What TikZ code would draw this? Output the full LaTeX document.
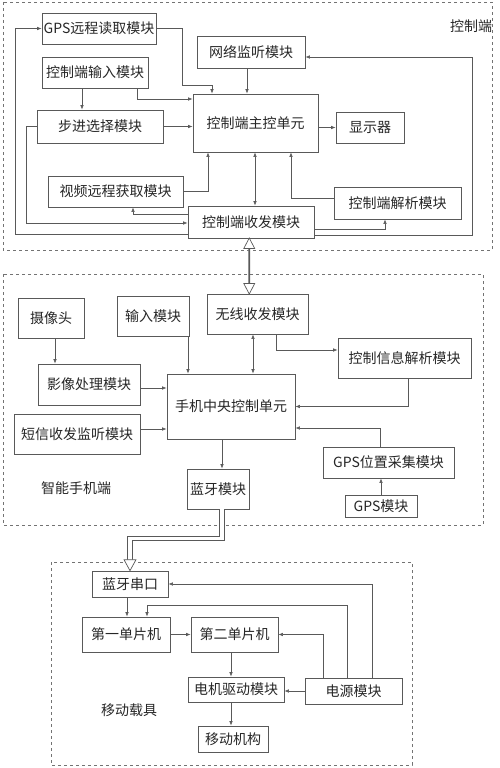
\documentclass[tikz,border=0pt]{standalone}
\usepackage{fontspec}
\setmainfont{Noto Sans CJK SC}
\usetikzlibrary{arrows.meta,shapes.arrows,calc}

\begin{document}
\begin{tikzpicture}[x=1pt,y=-1pt,
  box/.style={draw=black!65,line width=0.7pt,inner sep=0pt,text=black!85,font=\fontsize{14}{16}\selectfont},
  line/.style={draw=black!65,line width=0.6pt},
  arr/.style={line,-{Latex[length=4.5pt,width=3.5pt]}},
  both/.style={line,{Latex[length=4.5pt,width=3.5pt]}-{Latex[length=4.5pt,width=3.5pt]}},
  hollow/.style={draw=black!65,line width=0.7pt,fill=white,double arrow,rotate=90,inner sep=0pt,
    minimum width=11pt,double arrow head extend=3pt,double arrow tip angle=55},
  dline/.style={draw=black!65,line width=0.8pt,double=white,double distance=3.5pt},
  frame/.style={draw=black!55,dashed,line width=0.6pt},
  lbl/.style={text=black!85,font=\fontsize{14}{16}\selectfont}]
\useasboundingbox (0,0) rectangle (500,768);

\draw[frame] (3,2) rectangle (492,250);
\draw[frame] (3,274) rectangle (483,525);
\draw[frame] (51,562) rectangle (412,765);

\node[lbl] (l1) at (471,26) {控制端};
\node[lbl] (l2) at (76,488) {智能手机端};
\node[lbl] (l3) at (129,710) {移动载具};

\node[box,minimum width=114,minimum height=31] (gps) at (99,28.5) {GPS远程读取模块};
\node[box,minimum width=108,minimum height=32] (wl) at (251,52) {网络监听模块};
\node[box,minimum width=106,minimum height=31] (inp) at (95,72.5) {控制端输入模块};
\node[box,minimum width=126,minimum height=33] (bj) at (100,126.5) {步进选择模块};
\node[box,minimum width=125,minimum height=58] (zk) at (255.5,123) {控制端主控单元};
\node[box,minimum width=68,minimum height=31] (disp) at (370,127.5) {显示器};
\node[box,minimum width=135,minimum height=31] (sp) at (115.5,191.5) {视频远程获取模块};
\node[box,minimum width=127,minimum height=32] (jx) at (397.5,203) {控制端解析模块};
\node[box,minimum width=126,minimum height=32] (sf) at (251,222) {控制端收发模块};

\node[box,minimum width=66,minimum height=40] (cam) at (51,318) {摄像头};
\node[box,minimum width=72,minimum height=40] (sr) at (153,316) {输入模块};
\node[box,minimum width=101,minimum height=40] (wx) at (257.5,314) {无线收发模块};
\node[box,minimum width=133,minimum height=40] (kx) at (404.5,358) {控制信息解析模块};
\node[box,minimum width=102,minimum height=41] (yx) at (89,384.5) {影像处理模块};
\node[box,minimum width=128,minimum height=65] (sj) at (231,406.5) {手机中央控制单元};
\node[box,minimum width=126,minimum height=40] (dx) at (77,434) {短信收发监听模块};
\node[box,minimum width=131,minimum height=31] (gc) at (388.5,462.5) {GPS位置采集模块};
\node[box,minimum width=72,minimum height=22] (gm) at (381,506) {GPS模块};
\node[box,minimum width=62,minimum height=40] (bt) at (218,489) {蓝牙模块};

\node[box,minimum width=76,minimum height=26] (sk) at (130,584) {蓝牙串口};
\node[box,minimum width=88,minimum height=35] (d1) at (126,634.5) {第一单片机};
\node[box,minimum width=87,minimum height=35] (d2) at (234.5,634.5) {第二单片机};
\node[box,minimum width=96,minimum height=25] (dj) at (236,689.5) {电机驱动模块};
\node[box,minimum width=70,minimum height=26] (yd) at (233,739) {移动机构};
\node[box,minimum width=97,minimum height=26] (dy) at (353.5,691) {电源模块};

\draw[arr] (gps.east) -| (182,85) -| ([xshift=-43.5]zk.north);
\draw[arr] ([xshift=-4]wl.south) -- ([xshift=-4]wl.south |- zk.north);
\draw[arr] ([xshift=-13]inp.south) -- ([xshift=-13]inp.south |- bj.north);
\draw[arr] ([xshift=42]inp.south) |- ([yshift=24]zk.west);
\draw[arr] (bj.east) -- (bj.east -| zk.west);
\draw[arr] (disp.west -| zk.east) -- (disp.west);
\draw[arr] (sp.east) -| ([xshift=-47.5]zk.south);
\draw[arr] ([yshift=5]jx.west) -| ([xshift=35.5]zk.south);
\draw[both] ([xshift=4]sf.north) -- ([xshift=4]sf.north |- zk.south);
\draw[arr] ([yshift=8]sf.west) -| ([xshift=17.5]sp.south);
\draw[arr] (bj.west) -- ++(-10,0) |- ([yshift=-1]sf.west);
\draw[arr] ([yshift=-12]sf.west) -| ([xshift=-26]gps.west) -- (gps.west);
\draw[arr] ([yshift=-7]sf.east) -| ([xshift=-12.5]jx.south);
\draw[arr] ([yshift=-13]sf.east) -| (472,57) -- ([yshift=-5]wl.east);

\node[hollow,minimum height=56] (ha) at ([xshift=-5]$(sf.south)!0.5!(wx.north)$) {};

\draw[arr] ([xshift=4]cam.south) -- ([xshift=4]cam.south |- yx.north);
\draw[arr] ([xshift=35]sr.south) -- ([xshift=35]sr.south |- sj.north);
\draw[both] ([xshift=-4.5]wx.south) -- ([xshift=-4.5]wx.south |- sj.north);
\draw[arr] ([xshift=18.5]wx.south) |- ([yshift=8]kx.west);
\draw[arr] ([yshift=-3.5]yx.east) -- ([yshift=-3.5]yx.east -| sj.west);
\draw[arr] ([yshift=5]dx.east) -- ([yshift=5]dx.east -| sj.west);
\draw[arr] ([xshift=3.5]kx.south) |- (sj.east);
\draw[arr] ([xshift=-8.5]gc.north) |- ([yshift=-21.5]sj.east);
\draw[arr] (gm.north) -- (gm.north |- gc.south);
\draw[arr] ([xshift=-9]sj.south) -- ([xshift=-9]sj.south |- bt.north);

\draw[dline] ([xshift=4]bt.south) |- ([yshift=32]sk.north) -- ([yshift=10]sk.north);
\draw[line,line width=0.7pt,fill=white] ([xshift=-6,yshift=11]sk.north) -- (sk.north) -- ([xshift=6,yshift=11]sk.north) -- cycle;

\draw[arr] ([xshift=-3]sk.south) -- ([xshift=-3]sk.south |- d1.north);
\draw[arr] (d1.east) -- (d1.east -| d2.west);
\draw[arr] ([xshift=-3.5]d2.south) -- ([xshift=-3.5]d2.south |- dj.north);
\draw[arr] ([xshift=-5]dj.south) -- ([xshift=-5]dj.south |- yd.north);
\draw[arr] (dy.west) -- (dy.west -| dj.east);
\draw[arr] ([xshift=-30.5]dy.north) |- (d2.east);
\draw[arr] ([xshift=-6.5]dy.north) |- ([xshift=21,yshift=11]d1.north) -- ([xshift=21]d1.north);
\draw[arr] ([xshift=18.5]dy.north) |- (sk.east);
\end{tikzpicture}
\end{document}
